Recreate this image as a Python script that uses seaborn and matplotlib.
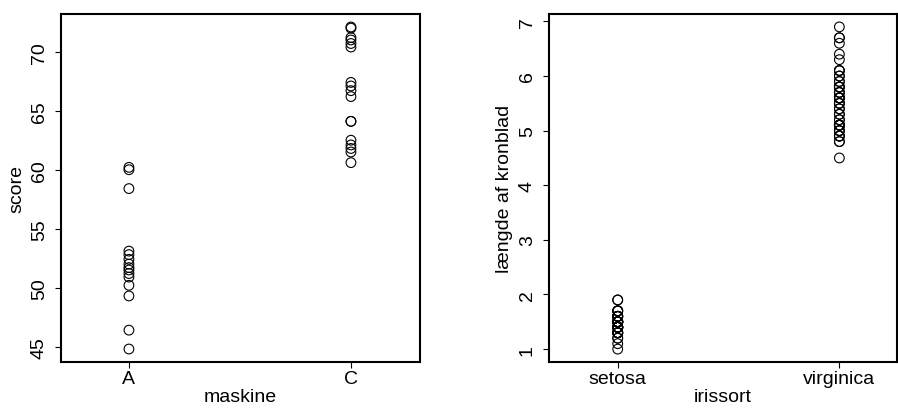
import matplotlib
matplotlib.use("Agg")
import matplotlib.pyplot as plt
import seaborn as sns
import pandas as pd

# Scores per machine
maskine_A = [60.2, 60.0, 58.4, 53.1, 52.8, 52.4, 52.0, 51.7, 51.5, 51.2, 50.9,
             50.2, 49.3, 46.4, 44.8]
maskine_C = [72.1, 72.0, 71.2, 71.0, 70.7, 70.4, 67.4, 67.1, 66.7, 66.2,
             64.1, 64.1, 62.5, 62.1, 61.8, 61.5, 60.6]
maskine_labels = ["A", "C"]

# Iris petal lengths (cm)
setosa = [1.4, 1.4, 1.3, 1.5, 1.4, 1.7, 1.4, 1.5, 1.4, 1.5, 1.5, 1.6, 1.4, 1.1,
          1.2, 1.5, 1.3, 1.4, 1.7, 1.5, 1.7, 1.5, 1.0, 1.7, 1.9, 1.6, 1.6, 1.5,
          1.4, 1.6, 1.6, 1.5, 1.5, 1.4, 1.5, 1.2, 1.3, 1.4, 1.3, 1.5, 1.3, 1.3,
          1.3, 1.6, 1.9, 1.4, 1.6, 1.4, 1.5, 1.4]
virginica = [6.0, 5.1, 5.9, 5.6, 5.8, 6.6, 4.5, 6.3, 5.8, 6.1, 5.1, 5.3, 5.5,
             5.0, 5.1, 5.3, 5.5, 6.7, 6.9, 5.0, 5.7, 4.9, 6.7, 4.9, 5.7, 6.0,
             4.8, 4.9, 5.6, 5.8, 6.1, 6.4, 5.6, 5.1, 5.6, 6.1, 5.6, 5.5, 4.8,
             5.4, 5.6, 5.1, 5.1, 5.9, 5.7, 5.2, 5.0, 5.2, 5.4, 5.1]
iris_labels = ["setosa", "virginica"]

df_score = pd.DataFrame({
    "maskine": [maskine_labels[0]] * len(maskine_A) + [maskine_labels[1]] * len(maskine_C),
    "score": maskine_A + maskine_C,
})
df_iris = pd.DataFrame({
    "irissort": [iris_labels[0]] * len(setosa) + [iris_labels[1]] * len(virginica),
    "kronblad": setosa + virginica,
})

sns.set_theme(style="white")
plt.rcParams["font.family"] = ["Liberation Sans", "DejaVu Sans"]

W, H = 898, 410
fig = plt.figure(figsize=(W / 100, H / 100), dpi=100)

def px_axes(x0, y0, x1, y1):
    return fig.add_axes([x0 / W, 1 - y1 / H, (x1 - x0) / W, (y1 - y0) / H])

ax1 = px_axes(61, 15, 420, 363)
ax2 = px_axes(549, 15, 897, 363)

FS = 14

def style(ax, xlabel, ylabel):
    for sp in ax.spines.values():
        sp.set_visible(True)
        sp.set_color("black")
        sp.set_linewidth(1.5)
    ax.tick_params(axis="both", which="major", direction="out", length=4.5,
                   width=0.8, color="black", labelsize=FS, labelcolor="black",
                   left=True, bottom=True)
    ax.tick_params(axis="x", pad=1)
    ax.tick_params(axis="y", pad=5)
    for lab in ax.get_yticklabels():
        lab.set_rotation(90)
        lab.set_va("center")
    ax.set_xlabel(xlabel, fontsize=FS, color="black", labelpad=1)
    ax.set_ylabel(ylabel, fontsize=FS, color="black", labelpad=4)
    for coll in ax.collections:
        coll.set_facecolor("none")
        coll.set_edgecolor("black")
        coll.set_linewidth(0.8)

sns.stripplot(data=df_score, x="maskine", y="score", order=maskine_labels,
              jitter=False, size=7, marker="o", ax=ax1)
ax1.set_xlim(-0.306, 1.311)
ax1.set_ylim(43.7, 73.2)
ax1.set_yticks([45, 50, 55, 60, 65, 70])
style(ax1, "maskine", "score")

sns.stripplot(data=df_iris, x="irissort", y="kronblad", order=iris_labels,
              jitter=False, size=7, marker="o", ax=ax2)
ax2.set_xlim(-0.31, 1.26)
ax2.set_ylim(0.764, 7.136)
ax2.set_yticks([1, 2, 3, 4, 5, 6, 7])
style(ax2, "irissort", "længde af kronblad")

fig.savefig("out.png", dpi=100, facecolor="white")
